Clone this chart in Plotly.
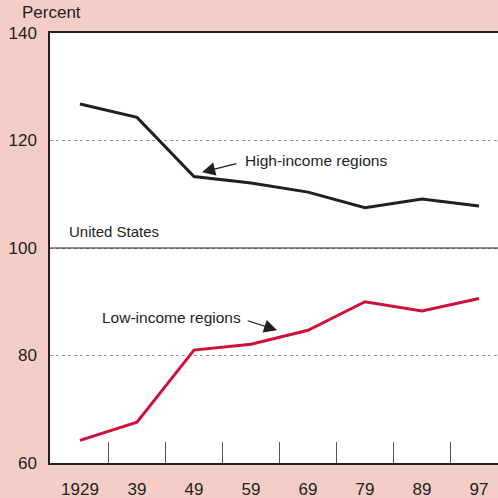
import plotly.graph_objects as go

years = ["1929", "39", "49", "59", "69", "79", "89", "97"]
high_income = [126.8, 124.3, 113.3, 112.1, 110.4, 107.5, 109.1, 107.8]
low_income = [64.2, 67.6, 81.0, 82.1, 84.7, 90.0, 88.3, 90.6]
y_ticks = [60, 80, 100, 120, 140]
us_level = 100

xpos = list(range(len(years)))
tick_between = [i + 0.5 for i in range(len(years) - 1)]

PINK = "#f4cdc7"
FONT = "Liberation Sans, Arial, sans-serif"
xr = [-0.526, 7.333]

fig = go.Figure()
fig.add_trace(go.Scatter(x=xpos, y=high_income, mode="lines",
                         line=dict(color="#231f20", width=3), showlegend=False, hoverinfo="skip"))
fig.add_trace(go.Scatter(x=xpos, y=low_income, mode="lines",
                         line=dict(color="#d0103c", width=3), showlegend=False, hoverinfo="skip"))
fig.add_trace(go.Scatter(x=tick_between, y=[None] * len(tick_between), xaxis="x2",
                         showlegend=False, hoverinfo="skip"))

fig.add_hline(y=us_level, line=dict(color="#231f20", width=1))

fig.update_layout(
    width=498, height=498,
    margin=dict(l=50, r=0, t=33, b=35, autoexpand=False),
    paper_bgcolor=PINK, plot_bgcolor="white",
    font=dict(family=FONT, size=17, color="#231f20"),
    xaxis=dict(range=xr, tickvals=xpos, ticktext=years, ticks="", automargin=False,
               showgrid=False, zeroline=False, showline=True, linecolor="#231f20",
               linewidth=1.5, mirror=True, ticklabelstandoff=10,
               tickfont=dict(size=17)),
    xaxis2=dict(range=xr, overlaying="x", anchor="y", side="bottom", automargin=False,
                tickvals=tick_between, ticks="inside", ticklen=21, tickwidth=1,
                tickcolor="#555555", showticklabels=False, showgrid=False,
                zeroline=False, showline=False),
    yaxis=dict(range=[60, 140], tickvals=y_ticks, ticks="", showgrid=True, automargin=False,
               gridcolor="#999999", griddash="dot", gridwidth=1,
               zeroline=False, showline=True, linecolor="#231f20", linewidth=1.5,
               ticklabelstandoff=8, tickfont=dict(size=17)),
    annotations=[
        dict(text="Percent", xref="paper", yref="paper", x=-0.068, y=1.0, yshift=21,
             xanchor="left", yanchor="middle", showarrow=False, font=dict(size=17)),
        dict(text="United States", x=-0.228, y=103.0, xanchor="left", yanchor="middle",
             showarrow=False, font=dict(size=15)),
        dict(text="High-income regions", x=2.86, y=116.2, xanchor="left", yanchor="middle",
             showarrow=False, font=dict(size=15.5)),
        dict(text="Low-income regions", x=0.35, y=87.0, xanchor="left", yanchor="middle",
             showarrow=False, font=dict(size=15.5)),
        dict(text="", x=2.14, y=114.1, ax=36, ay=-9, showarrow=True, arrowhead=2,
             arrowsize=2.2, arrowwidth=1.2, arrowcolor="#231f20"),
        dict(text="", x=3.46, y=84.7, ax=-31, ay=-10, showarrow=True, arrowhead=2,
             arrowsize=2.2, arrowwidth=1.2, arrowcolor="#231f20"),
    ],
)

fig.write_html(
    "out.html",
    config={"displayModeBar": False},
    post_script="document.body.style.margin='0';document.body.style.background='%s';" % PINK,
)
